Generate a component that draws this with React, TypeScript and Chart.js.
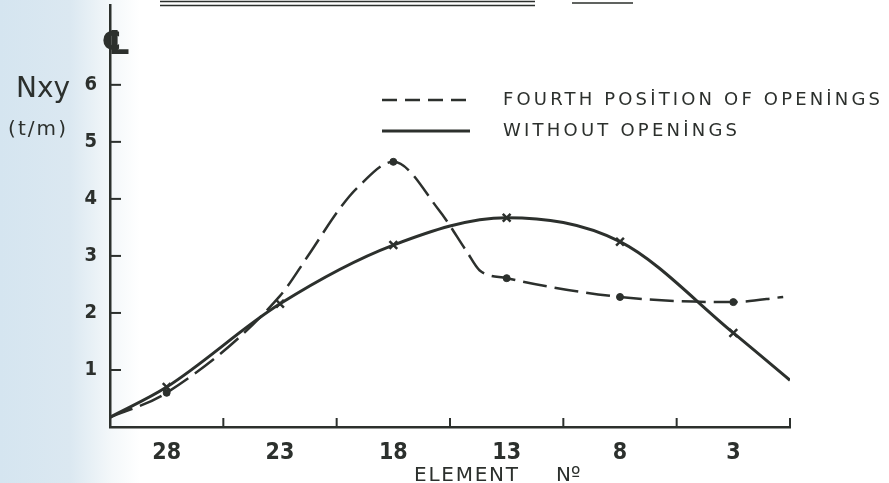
import React, { useEffect, useRef } from 'react';
import { Chart, registerables } from 'chart.js';

Chart.register(...registerables);

// Element numbers along the bottom axis (read right to left: 28 ... 3)
const elementNo = [28, 23, 18, 13, 8, 3];
// Shear force Nxy (t/m) at the marked elements
const withoutOpenings = [0.7, 2.16, 3.19, 3.67, 3.25, 1.65];
const fourthPosition = [0.6, 2.3, 4.65, 2.61, 2.28, 2.19];
// the dashed curve carries no marker at element 23
const fourthMarked = [true, false, true, true, true, true];
// further points of each curve, [element, Nxy], between and beyond the marked elements
const withoutOpeningsTrace = [
  [30.5, 0.17],
  [0.5, 0.82],
];
const fourthPositionTrace = [
  [30.5, 0.17],
  [21.8, 2.98],
  [20.4, 3.81],
  [19.6, 4.19],
  [16, 3.81],
  [14.75, 3.07],
  [14.2, 2.75],
  [0.8, 2.28],
];
const yTicks = [1, 2, 3, 4, 5, 6];
// small upward ticks between element groups
const elementBoundaries = [25.5, 20.5, 15.5, 10.5, 5.5, 0.5];

const INK = '#2c302d';
const FONT = "'DejaVu Sans Condensed', 'DejaVu Sans', sans-serif";
const WIDE = "'DejaVu Sans', sans-serif";

type Pt = { x: number; y: number; m: boolean };

function buildSeries(values: number[], marked: boolean[], trace: number[][]): Pt[] {
  const pts: Pt[] = elementNo.map((e, i) => ({ x: e, y: values[i], m: marked[i] }));
  trace.forEach(([x, y]) => pts.push({ x, y, m: false }));
  pts.sort((a, b) => b.x - a.x);
  return pts;
}

function spacedText(ctx: CanvasRenderingContext2D, text: string, x: number, y: number, width: number) {
  (ctx as any).letterSpacing = '0px';
  const w = ctx.measureText(text).width;
  const n = Array.from(text).length;
  const sp = n > 1 ? (width - w) / (n - 1) : 0;
  (ctx as any).letterSpacing = sp.toFixed(2) + 'px';
  ctx.fillText(text, x, y);
  (ctx as any).letterSpacing = '0px';
}

const figureMarks = {
  id: 'figureMarks',
  afterDraw(chart: any) {
    const { ctx, scales } = chart;
    const x = scales.x;
    const y = scales.y;
    ctx.save();
    ctx.strokeStyle = INK;
    ctx.fillStyle = INK;
    ctx.lineCap = 'butt';

    // inward tick marks on the Nxy axis
    ctx.lineWidth = 2;
    yTicks.forEach((v) => {
      const py = y.getPixelForValue(v);
      ctx.beginPath();
      ctx.moveTo(x.left, py);
      ctx.lineTo(x.left + 11, py);
      ctx.stroke();
    });
    // upward tick marks on the element axis
    elementBoundaries.forEach((e) => {
      const px = x.getPixelForValue(e);
      ctx.beginPath();
      ctx.moveTo(px, y.bottom);
      ctx.lineTo(px, y.bottom - 9);
      ctx.stroke();
    });

    // centre-line symbol at the top of the axis
    ctx.textAlign = 'center';
    ctx.textBaseline = 'alphabetic';
    ctx.font = "bold 33px 'DejaVu Sans', sans-serif";
    ctx.fillText('\u2104', x.left + 6, 54);

    // axis captions
    ctx.textAlign = 'left';
    ctx.font = `28px ${WIDE}`;
    ctx.fillText('Nxy', 16, 97);
    ctx.font = `20px ${WIDE}`;
    spacedText(ctx, '(t/m)', 8, 135, 58);

    ctx.font = `20px ${WIDE}`;
    spacedText(ctx, 'ELEMENT', 414, 481, 104);
    ctx.fillText('N\u00BA', 556, 481);

    // legend
    const row1 = 100;
    const row2 = 131;
    ctx.lineWidth = 2.5;
    ctx.setLineDash([15, 8]);
    ctx.beginPath();
    ctx.moveTo(382, row1);
    ctx.lineTo(470, row1);
    ctx.stroke();
    ctx.setLineDash([]);
    ctx.lineWidth = 3;
    ctx.beginPath();
    ctx.moveTo(382, row2);
    ctx.lineTo(470, row2);
    ctx.stroke();
    ctx.font = `18px ${WIDE}`;
    ctx.textBaseline = 'middle';
    spacedText(ctx, 'FOURTH POS\u0130TION OF OPEN\u0130NGS', 503, row1, 377);
    spacedText(ctx, 'WITHOUT OPEN\u0130NGS', 503, row2, 234);

    // rules along the top edge
    ctx.lineWidth = 1.6;
    ctx.beginPath();
    ctx.moveTo(160, 1.5);
    ctx.lineTo(535, 1.5);
    ctx.moveTo(160, 5.5);
    ctx.lineTo(535, 5.5);
    ctx.moveTo(572, 3);
    ctx.lineTo(633, 3);
    ctx.stroke();

    ctx.restore();
  },
};

export default function App() {
  const canvasRef = useRef<HTMLCanvasElement | null>(null);

  useEffect(() => {
    const canvas = canvasRef.current;
    if (!canvas) return;

    const withoutPts = buildSeries(withoutOpenings, elementNo.map(() => true), withoutOpeningsTrace);
    const fourthPts = buildSeries(fourthPosition, fourthMarked, fourthPositionTrace);

    const chart = new Chart(canvas, {
      type: 'line',
      data: {
        datasets: [
          {
            label: 'FOURTH POSITION OF OPENINGS',
            data: fourthPts as any,
            borderColor: INK,
            borderWidth: 2.5,
            borderDash: [24, 8],
            cubicInterpolationMode: 'monotone',
            pointStyle: 'circle',
            pointRadius: (c: any) => (c.raw && c.raw.m ? 3.5 : 0),
            pointBackgroundColor: INK,
            pointBorderColor: INK,
            pointBorderWidth: 1,
            fill: false,
          },
          {
            label: 'WITHOUT OPENINGS',
            data: withoutPts as any,
            borderColor: INK,
            borderWidth: 3,
            cubicInterpolationMode: 'monotone',
            pointStyle: 'crossRot',
            pointRadius: (c: any) => (c.raw && c.raw.m ? 5.5 : 0),
            pointBorderColor: INK,
            pointBorderWidth: 2.5,
            fill: false,
          },
        ],
      },
      options: {
        animation: false,
        responsive: false,
        devicePixelRatio: 1,
        events: [],
        layout: { padding: { left: 0, top: 5, right: 99, bottom: 0 } },
        plugins: {
          legend: { display: false },
          tooltip: { enabled: false },
        },
        scales: {
          x: {
            type: 'linear',
            reverse: true,
            min: 0.5,
            max: 30.5,
            afterBuildTicks: (scale: any) => {
              scale.ticks = elementNo.map((v) => ({ value: v }));
            },
            afterFit: (scale: any) => {
              scale.height = 56;
              scale.paddingLeft = 0;
              scale.paddingRight = 0;
            },
            ticks: {
              autoSkip: false,
              maxRotation: 0,
              padding: 12,
              color: INK,
              font: { family: FONT, size: 23, weight: 'bold' },
              callback: (v: any) => String(v),
            },
            grid: { display: true, drawOnChartArea: false, drawTicks: false },
            border: { display: true, color: INK, width: 2.5 },
          },
          y: {
            type: 'linear',
            min: 0,
            max: 7.4,
            afterBuildTicks: (scale: any) => {
              scale.ticks = yTicks.map((v) => ({ value: v }));
            },
            afterFit: (scale: any) => {
              scale.width = 110;
              scale.paddingTop = 0;
              scale.paddingBottom = 0;
            },
            ticks: {
              padding: 13,
              color: INK,
              font: { family: FONT, size: 20, weight: 'bold' },
              callback: (v: any) => String(v),
            },
            grid: { display: true, drawOnChartArea: false, drawTicks: false },
            border: { display: true, color: INK, width: 2.5 },
          },
        },
      },
      plugins: [figureMarks],
    });

    return () => chart.destroy();
  }, []);

  return (
    <div
      style={{
        position: 'absolute',
        left: 0,
        top: 0,
        width: 889,
        height: 483,
        background:
          'linear-gradient(90deg, #d5e5f0 0px, #dbe8f1 70px, #f4f8fa 112px, #ffffff 140px)',
      }}
    >
      <canvas ref={canvasRef} width={889} height={483} style={{ display: 'block' }} />
    </div>
  );
}
